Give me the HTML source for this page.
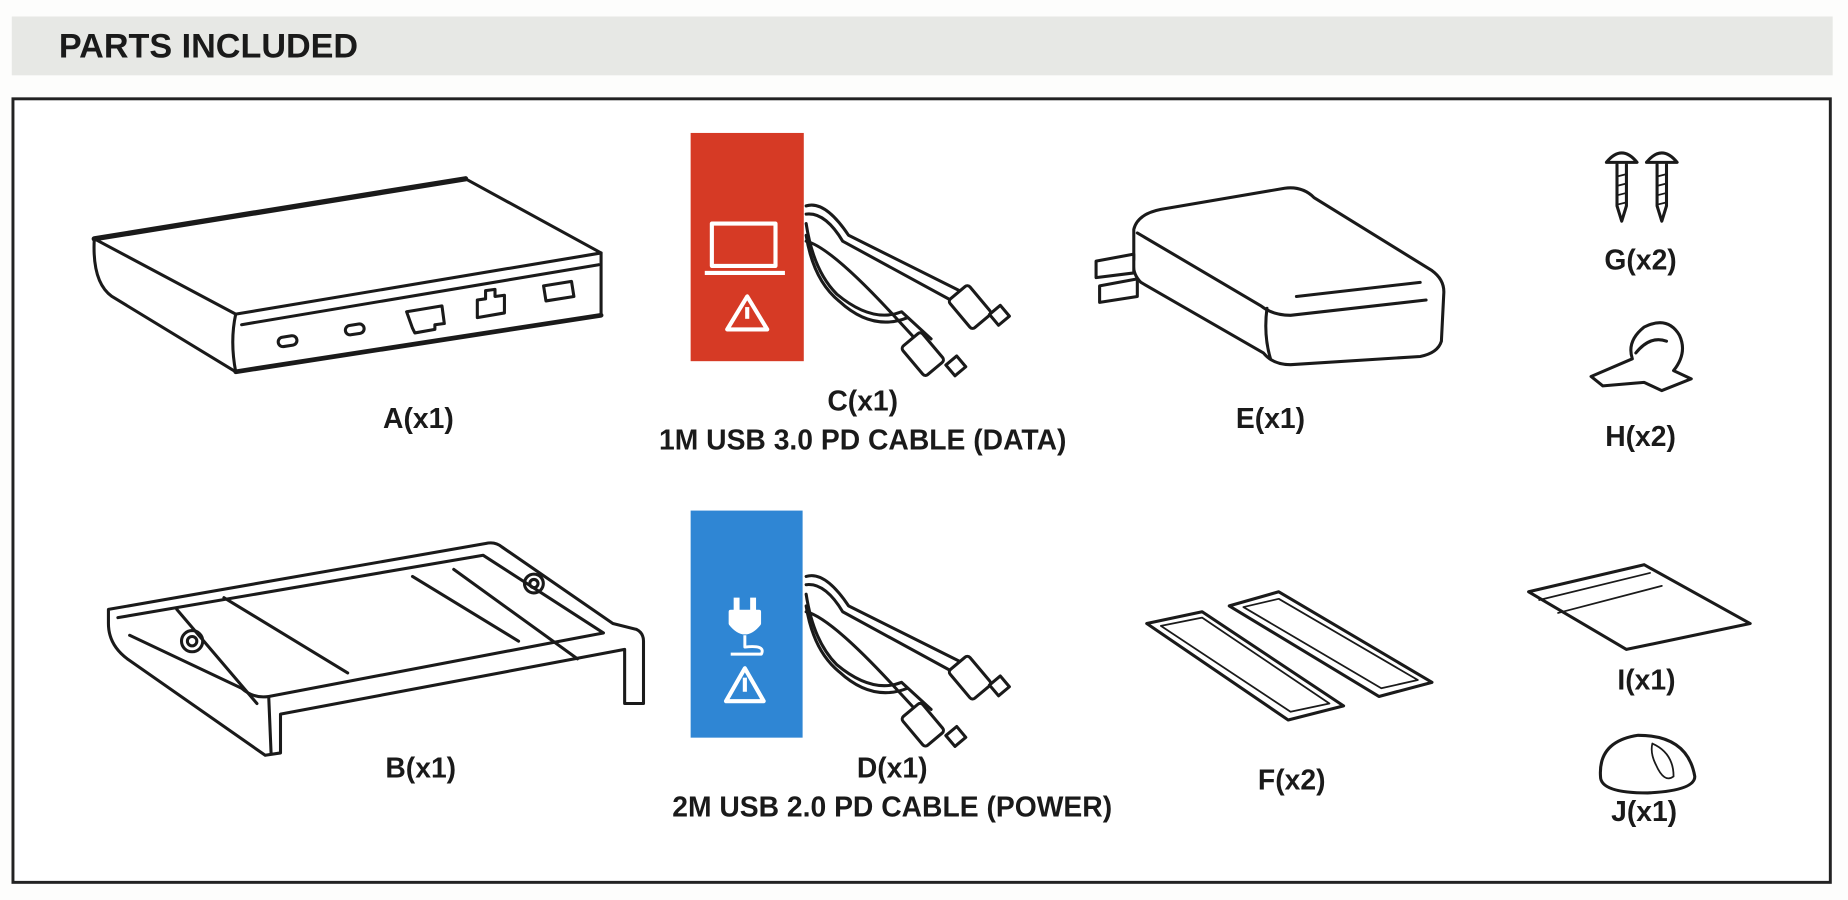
<!DOCTYPE html>
<html><head><meta charset="utf-8"><style>
html,body{margin:0;padding:0;background:#fff;width:1848px;height:900px;overflow:hidden}
svg{display:block}
text{font-family:"Liberation Sans",sans-serif;font-weight:bold;fill:#1a1a1a}
</style></head><body>
<svg width="1848" height="900" viewBox="0 0 1568 765" preserveAspectRatio="none">
<rect x="0" y="0" width="1568" height="765" fill="#fdfdfc"/>
<rect x="10" y="14" width="1545" height="50" fill="#e7e8e5"/>
<text x="50" y="49" font-size="29">PARTS INCLUDED</text>
<rect x="11" y="84" width="1542" height="666" fill="#fff" stroke="#222" stroke-width="2.5"/>

<g fill="none" stroke="#1a1a1a" stroke-width="2.6" stroke-linejoin="round" stroke-linecap="round">
<!-- A hub -->
<path d="M80 203 L395 152 L510 215 L200 267 Z" fill="#fff"/>
<path d="M80 203 L395 152" stroke-width="4.5"/>
<path d="M80 203 Q78 240 95 252 L200 316 L510 268 L510 215"/>
<path d="M200 316 L510 268" stroke-width="4"/>
<path d="M200 267 Q195 290 200 316"/>
<path d="M205 276 L508 225"/>
<rect x="236" y="286" width="16" height="8" rx="4" transform="rotate(-9 244 290)"/>
<rect x="293" y="276" width="16" height="8" rx="4" transform="rotate(-9 301 280)"/>
<path d="M345 265 L375 260 L377 275 L369 276 L369 280 L352 283 L350 279 Z"/>
<path d="M405 255 L405 270 L428 266 L428 251 L420 252 L420 246 L412 247 L412 254 Z"/>
<rect x="462" y="241" width="24" height="13" transform="rotate(-9 474 247)"/>

<!-- B stand -->
<path d="M92 518 L412 462 Q420 460 426 465 L520 530 L540 535 Q546 538 546 545 L546 598 L530 598 L530 552 L238 607 L238 640 L225 642 Q205 628 108 560 Q92 548 92 530 Z" fill="#fff"/>
<path d="M100 525 L410 472 L512 538 L228 592 Q215 594 205 585 L110 540"/>
<path d="M228 592 L230 640"/>
<path d="M150 518 L218 598"/>
<path d="M190 508 L295 572"/>
<path d="M350 490 L440 545"/>
<path d="M385 484 L490 560"/>
<circle cx="163" cy="545" r="9"/><circle cx="163" cy="545" r="4"/>
<circle cx="453" cy="496" r="8"/><circle cx="453" cy="496" r="3.5"/>

<!-- E adapter -->
<path d="M962 195 Q965 182 985 178 L1090 160 Q1105 158 1115 168 L1215 230 Q1226 238 1225 250 L1223 290 Q1220 300 1205 303 L1095 310 Q1080 310 1072 300 L968 240 Q960 232 962 220 Z" fill="#fff"/>
<path d="M965 198 L1070 260 Q1080 268 1095 268 L1210 255"/>
<path d="M1075 262 Q1072 285 1078 305"/>
<path d="M1100 252 L1205 240"/>
<path d="M930 222 L962 216 L962 232 L930 236 Z" fill="#fff"/>
<path d="M933 243 L965 237 L965 252 L933 257 Z" fill="#fff"/>

<!-- F strips -->
<path d="M973 530 L1020 520 L1140 600 L1093 612 Z"/>
<path d="M985 532 L1020 525 L1128 598 L1095 605 Z" stroke-width="1.5"/>
<path d="M1043 515 L1085 503 L1215 580 L1170 592 Z"/>
<path d="M1055 516 L1085 509 L1203 578 L1172 585 Z" stroke-width="1.5"/>

<!-- I pad -->
<path d="M1297 503 L1395 480 L1485 530 L1380 552 Z"/>
<path d="M1306 510 L1400 487" stroke-width="1.5"/>
<path d="M1322 521 L1410 498" stroke-width="1.5"/>
<!-- J -->
<path d="M1358 660 Q1356 630 1390 625 Q1432 625 1438 660 Q1438 672 1398 674 Q1358 674 1358 660 Z"/>
<path d="M1402 632 Q1420 640 1420 660 Q1412 666 1405 650 Q1400 640 1402 632" stroke-width="1.5"/>
<!-- G screws -->
<path d="M1372 140 L1372 175 L1376 188 L1380 175 L1380 140"/>
<path d="M1363 138 Q1376 122 1389 138 Z" fill="#fff"/>
<path d="M1406 140 L1406 175 L1410 188 L1414 175 L1414 140"/>
<path d="M1397 138 Q1410 122 1423 138 Z" fill="#fff"/>
<path d="M1372 150 L1380 148 M1372 158 L1380 156 M1372 166 L1380 164 M1372 174 L1380 172 M1406 150 L1414 148 M1406 158 L1414 156 M1406 166 L1414 164 M1406 174 L1414 172" stroke-width="1.5"/>
<!-- H clip -->
<path d="M1350 320 L1385 305 Q1380 290 1395 278 Q1415 268 1425 285 Q1432 300 1420 315 L1435 322 L1410 332 L1395 325 L1360 328 Z" fill="#fff"/>
<path d="M1388 300 Q1400 285 1414 290"/>

<!-- cables -->
<g id="cab">
<path d="M684 175 Q700 170 720 200 L820 250"/>
<path d="M684 182 Q700 180 715 205 L812 258"/>
<path d="M684 190 Q690 230 710 250 Q740 275 765 265 L790 288"/>
<path d="M684 200 Q690 238 712 256 Q740 282 770 270"/>
<path d="M684 205 Q705 210 760 270 L783 295"/>
<rect x="812" y="245" width="22" height="32" rx="3" transform="rotate(-40 823 261)" fill="#fff"/>
<rect x="842" y="262" width="12" height="12" transform="rotate(-40 848 268)" fill="#fff"/>
<rect x="772" y="285" width="22" height="32" rx="3" transform="rotate(-40 783 301)" fill="#fff"/>
<rect x="805" y="305" width="12" height="12" transform="rotate(-40 811 311)" fill="#fff"/>
</g>
<use href="#cab" transform="translate(0 315)"/>
</g>

<!-- C red -->
<rect x="586" y="113" width="96" height="194" fill="#d63a25"/>
<g fill="none" stroke="#fff" stroke-width="3.5" stroke-linejoin="round">
<rect x="604" y="190" width="54" height="36"/>
<path d="M598 232 L666 232"/>
<path d="M634 252 L617 280 L651 280 Z"/>
<path d="M634 261 L634 271"/>
</g>
<!-- D blue -->
<rect x="586" y="434" width="95" height="193" fill="#2f86d4"/>
<g fill="none" stroke="#fff" stroke-width="3.5" stroke-linejoin="round">
<path d="M620 520 L644 520 L644 530 Q632 545 620 530 Z" fill="#fff"/>
<path d="M625 520 L625 508 M639 520 L639 508" stroke-width="5"/>
<path d="M632 540 L632 550 Q650 548 646 556 L620 556" stroke-width="2.5"/>
<path d="M632 568 L616 596 L648 596 Z"/>
<path d="M632 576 L632 588"/>
</g>

<g font-size="24" text-anchor="middle">
<text x="355" y="364">A(x1)</text>
<text x="732" y="349">C(x1)</text>
<text x="732" y="382">1M USB 3.0 PD CABLE (DATA)</text>
<text x="1078" y="364">E(x1)</text>
<text x="1392" y="229">G(x2)</text>
<text x="1392" y="379">H(x2)</text>
<text x="357" y="661">B(x1)</text>
<text x="757" y="661">D(x1)</text>
<text x="757" y="694">2M USB 2.0 PD CABLE (POWER)</text>
<text x="1096" y="671">F(x2)</text>
<text x="1397" y="586">I(x1)</text>
<text x="1395" y="698">J(x1)</text>
</g>
</svg>
</body></html>
